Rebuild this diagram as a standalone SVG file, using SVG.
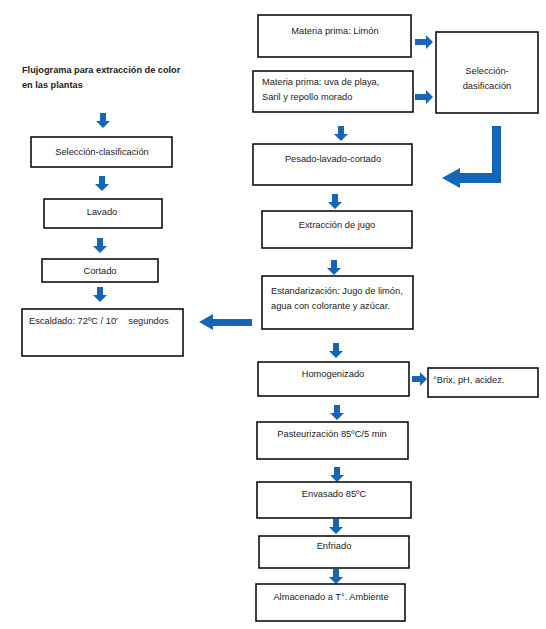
<svg xmlns="http://www.w3.org/2000/svg" xmlns:xlink="http://www.w3.org/1999/xlink" width="546" height="629" viewBox="0 0 546 629">
<style>
.box{fill:#fff;stroke:#000;stroke-width:1.5}
.t{font-family:"Liberation Sans",Arial,sans-serif;font-size:9.3px;fill:#222}
.c{text-anchor:middle}
.title{font-family:"Liberation Sans",Arial,sans-serif;font-size:9.2px;font-weight:bold;fill:#222}
.ar{fill:#1565b8}
</style>
<defs>
<path id="da" d="M-3,0 H3 V8 H7 L0,15 L-7,8 H-3 Z"/>
<path id="ra" d="M0,-3 V3 H11 V7 L18,0 L11,-7 V-3 Z"/>
</defs>
<rect width="546" height="629" fill="#fff"/>
<text class="title" x="22" y="73">Flujograma para extracción de color</text>
<text class="title" x="22" y="88">en las plantas</text>

<g id="connectors" class="ar">
<use xlink:href="#da" x="103" y="113"/>
<use xlink:href="#da" x="102" y="176"/>
<use xlink:href="#da" x="100" y="238"/>
<use xlink:href="#da" x="100" y="287"/>
<use xlink:href="#ra" x="415" y="42"/>
<use xlink:href="#ra" x="415" y="97"/>
<path d="M492,126 H501 V183 H460 V188 L442,178 L460,168 V173 H492 Z"/>
<use xlink:href="#da" x="341" y="126"/>
<use xlink:href="#da" x="335" y="194"/>
<use xlink:href="#da" x="334" y="260"/>
<path d="M252,319 V326 H213 V330 L199,322 L213,314 V319 Z"/>
<use xlink:href="#da" x="336" y="343"/>
<path d="M412,376 V382 H420 V386 L427,379 L420,372 V376 Z"/>
<use xlink:href="#da" x="337" y="405"/>
<use xlink:href="#da" x="337" y="467"/>
<use xlink:href="#da" x="336" y="519"/>
<use xlink:href="#da" x="336" y="569"/>
</g>

<g id="n-sel-left"><rect class="box" x="31" y="137" width="141" height="30"/><text class="t c" x="102" y="155">Selección-clasificación</text></g>
<g id="n-lavado"><rect class="box" x="44" y="199" width="118" height="29"/><text class="t c" x="102" y="215">Lavado</text></g>
<g id="n-cortado"><rect class="box" x="42" y="259" width="116" height="23"/><text class="t c" x="100" y="274">Cortado</text></g>
<g id="n-escaldado"><rect class="box" x="22" y="309" width="161" height="47"/><text class="t" x="29" y="324" xml:space="preserve">Escaldado: 72ºC / 10'    segundos</text></g>

<g id="n-limon"><rect class="box" x="258" y="15" width="153" height="42"/><text class="t c" x="335" y="34">Materia prima: Limón</text></g>
<g id="n-uva"><rect class="box" x="253" y="71" width="160" height="41"/><text class="t" x="262" y="85">Materia prima: uva de playa,</text><text class="t" x="262" y="100">Saril y repollo morado</text></g>
<g id="n-sel-right"><rect class="box" x="436" y="32" width="102" height="81"/><text class="t c" x="487" y="74">Selección-</text><text class="t c" x="487" y="89">dasificación</text></g>
<g id="n-pesado"><rect class="box" x="253" y="144" width="159" height="41"/><text class="t c" x="333" y="162">Pesado-lavado-cortado</text></g>
<g id="n-extraccion"><rect class="box" x="262" y="211" width="150" height="37"/><text class="t c" x="337" y="228">Extracción de jugo</text></g>
<g id="n-estandarizacion"><rect class="box" x="262" y="276" width="151" height="53"/><text class="t" x="271" y="294">Estandarización: Jugo de limón,</text><text class="t" x="271" y="309">agua con colorante y azúcar.</text></g>
<g id="n-homogenizado"><rect class="box" x="258" y="362" width="151" height="34"/><text class="t c" x="333" y="377">Homogenizado</text></g>
<g id="n-brix"><rect class="box" x="428" y="368" width="110" height="29"/><text class="t" x="433" y="383">°Brix, pH, acidez.</text></g>
<g id="n-pasteurizacion"><rect class="box" x="257" y="422" width="151" height="37"/><text class="t c" x="332" y="437">Pasteurización 85ºC/5 min</text></g>
<g id="n-envasado"><rect class="box" x="257" y="482" width="154" height="36"/><text class="t c" x="334" y="497">Envasado 85ºC</text></g>
<g id="n-enfriado"><rect class="box" x="259" y="536" width="150" height="32"/><text class="t c" x="334" y="549">Enfriado</text></g>
<g id="n-almacenado"><rect class="box" x="256" y="584" width="149" height="37"/><text class="t c" x="331" y="600">Almacenado a T°. Ambiente</text></g>
</svg>
